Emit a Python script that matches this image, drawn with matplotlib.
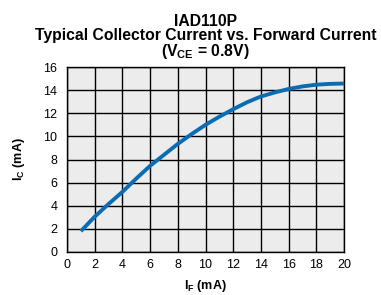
import numpy as np
import matplotlib.pyplot as plt

plt.rcParams['font.family'] = ['Liberation Sans', 'DejaVu Sans']
plt.rcParams['mathtext.fontset'] = 'custom'
plt.rcParams['mathtext.rm'] = 'Liberation Sans'
plt.rcParams['mathtext.bf'] = 'Liberation Sans:bold'
plt.rcParams['mathtext.it'] = 'Liberation Sans:italic'

# values
i_f = [1, 2, 3, 4, 5, 6, 7, 8, 9, 10, 11, 12, 13, 14, 15, 16, 17, 18, 19, 20]
i_c = [1.8, 3.05, 4.15, 5.2, 6.35, 7.45, 8.4, 9.35, 10.2, 11.0, 11.7, 12.35,
       12.95, 13.45, 13.8, 14.1, 14.32, 14.47, 14.54, 14.57]

x_ticks = list(range(0, 21, 2))
y_ticks = list(range(0, 17, 2))

fig = plt.figure(figsize=(3.81, 2.95), dpi=100)
ax = fig.add_axes([67/381, 1 - 252/295, 277/381, 185/295])
ax.set_facecolor('#ececec')

ax.plot(i_f, i_c, color='#0a6db3', lw=2.8, solid_capstyle='butt', zorder=3)

ax.set_xlim(0, 20)
ax.set_ylim(0, 16)
ax.set_xticks(x_ticks)
ax.set_yticks(y_ticks)
ax.grid(True, color='black', lw=1.0)
ax.tick_params(length=0, labelsize=9, pad=5)
ax.tick_params(axis='y', pad=7)
for s in ax.spines.values():
    s.set_color('black')
    s.set_linewidth(1.0)

ax.set_xlabel(r'$\mathbf{I_F}$ (mA)', fontsize=9, fontweight='bold', labelpad=5)
ax.set_ylabel(r'$\mathbf{I_C}$ (mA)', fontsize=9, fontweight='bold', labelpad=12)

ax.set_title('IAD110P\nTypical Collector Current vs. Forward Current\n'
             r'($\mathbf{V_{CE}}$ = 0.8V)',
             fontsize=11.3, fontweight='bold', linespacing=0.93, pad=8)

fig.savefig('out.png', dpi=100)
